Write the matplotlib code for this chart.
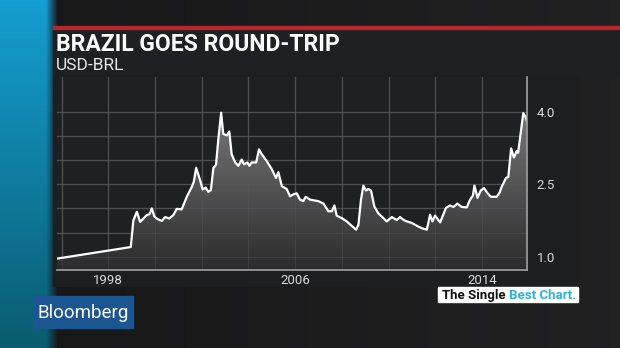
import numpy as np
import matplotlib.pyplot as plt
from matplotlib.patches import Rectangle, Polygon

# USD-BRL (decimal year, rate)
dates = [1995.80, 1998.96, 1999.07, 1999.22, 1999.36, 1999.50, 1999.64, 1999.76, 1999.86, 1999.97,
         2000.10, 2000.29, 2000.43, 2000.61, 2000.78, 2000.93, 2001.14, 2001.36, 2001.57, 2001.66,
         2001.76, 2001.93, 2002.04, 2002.17, 2002.28, 2002.39, 2002.50, 2002.61, 2002.71, 2002.83,
         2002.92, 2003.07, 2003.18, 2003.28, 2003.43, 2003.57, 2003.71, 2003.81, 2003.95, 2004.04,
         2004.14, 2004.33, 2004.45, 2004.57, 2004.78, 2005.00, 2005.18, 2005.28, 2005.43, 2005.64,
         2005.78, 2005.92, 2006.07, 2006.21, 2006.35, 2006.45, 2006.64, 2006.99, 2007.21, 2007.42,
         2007.57, 2007.68, 2007.78, 2007.99, 2008.21, 2008.42, 2008.61, 2008.71, 2008.82, 2008.92,
         2009.04, 2009.13, 2009.25, 2009.39, 2009.56, 2009.78, 2009.92, 2010.14, 2010.35, 2010.49,
         2010.68, 2010.78, 2010.99, 2011.21, 2011.42, 2011.64, 2011.78, 2011.88, 2011.99, 2012.21,
         2012.46, 2012.63, 2012.78, 2012.95, 2013.13, 2013.35, 2013.49, 2013.61, 2013.68, 2013.81,
         2013.95, 2014.09, 2014.23, 2014.38, 2014.63, 2014.75, 2014.85, 2015.03, 2015.13, 2015.25,
         2015.37, 2015.49, 2015.55, 2015.70, 2015.77, 2015.88, 2015.93]
usd_brl = [0.96, 1.20, 1.75, 1.93, 1.72, 1.79, 1.86, 1.88, 2.00, 1.83,
           1.78, 1.74, 1.82, 1.79, 1.86, 1.99, 1.98, 2.24, 2.44, 2.55,
           2.84, 2.58, 2.39, 2.43, 2.34, 2.38, 2.84, 2.90, 3.43, 3.98,
           3.54, 3.51, 3.59, 3.12, 2.95, 2.88, 3.01, 2.91, 2.95, 2.88,
           2.95, 2.95, 3.22, 3.12, 2.98, 2.81, 2.63, 2.75, 2.46, 2.40,
           2.25, 2.29, 2.31, 2.18, 2.15, 2.24, 2.18, 2.15, 2.10, 1.94,
           1.94, 2.06, 1.85, 1.80, 1.73, 1.64, 1.56, 1.66, 2.18, 2.47,
           2.37, 2.40, 2.37, 2.04, 1.90, 1.80, 1.73, 1.82, 1.76, 1.82,
           1.75, 1.73, 1.70, 1.64, 1.59, 1.56, 1.87, 1.73, 1.85, 1.71,
           2.01, 2.06, 2.03, 2.10, 2.03, 2.02, 2.18, 2.26, 2.47, 2.22,
           2.37, 2.42, 2.32, 2.24, 2.24, 2.32, 2.45, 2.63, 2.65, 3.24,
           3.05, 3.19, 3.15, 3.71, 3.97, 3.88, 3.80]

x_ticks = [1998, 2006, 2014]
x_labels = ["1998", "2006", "2014"]
y_ticks = [1.0, 2.5, 4.0]
y_labels = ["1.0", "2.5", "4.0"]

title = "BRAZIL GOES ROUND-TRIP"
subtitle = "USD-BRL"

W, H = 620, 348
fig = plt.figure(figsize=(W / 100, H / 100), dpi=100)
fig.patch.set_facecolor("#1c1c1d")

# background layer in pixel coordinates
bg = fig.add_axes([0, 0, 1, 1])
bg.set_xlim(0, W)
bg.set_ylim(H, 0)
bg.axis("off")

# subtle dark gradient for the backdrop
grad = np.linspace(0, 1, 256).reshape(1, -1)
bg.imshow(np.dstack([0.09 + 0.04 * grad, 0.09 + 0.04 * grad, 0.095 + 0.04 * grad]),
          extent=[0, W, H, 0], aspect="auto", zorder=0)

# blue strip on the left
vert = np.linspace(0, 1, 200).reshape(-1, 1)
horiz = np.linspace(0, 1, 60).reshape(1, -1)
shade = np.clip((horiz - 0.8) / 0.2, 0, 1)
r = (0.08 * (1 - vert) + 0.04 * vert) * (1 - shade) + 0.10 * shade
g = (0.62 * (1 - vert) + 0.36 * vert) * (1 - shade) + 0.10 * shade
b = (0.82 * (1 - vert) + 0.44 * vert) * (1 - shade) + 0.11 * shade
bg.imshow(np.dstack([r, g, b]), extent=[0, 58, H, 0], aspect="auto", zorder=1)

# header and chart panel
bg.add_patch(Rectangle((53, 28), W - 53, 48, color="#1f2023", zorder=2))
bg.add_patch(Rectangle((53, 26), W - 53, 3, color="#b8262a", zorder=3))
bg.add_patch(Rectangle((53, 76), 525, 210, color="#1d1e20", zorder=2))

bg.text(56, 51, title, color="white", fontsize=16.5, fontweight="bold",
        family="Roboto", ha="left", va="baseline", zorder=5)
bg.text(56, 70, subtitle, color="#e8e8e8", fontsize=12.5,
        family="Roboto", ha="left", va="baseline", zorder=5)

# Bloomberg logo
bg.add_patch(Rectangle((33, 296), 100, 32, color="#1b5592", zorder=4))
bg.text(83, 313, "Bloomberg", color="white", fontsize=13.5, family="Roboto",
        ha="center", va="center", zorder=5)

# "The Single Best Chart." tag
bg.add_patch(Rectangle((438, 287), 140, 15, color="white", zorder=4))
t1 = bg.text(442, 299, "The Single ", color="#111111", fontsize=9.5, fontweight="bold",
             family="Roboto", ha="left", va="baseline", zorder=5)
bg.annotate("Best Chart.", xy=(1, 0), xycoords=t1, color="#2bb3d9", fontsize=9.5,
            fontweight="bold", family="Roboto", ha="left", va="bottom", zorder=5)

# main chart
ax = fig.add_axes([57 / W, 1 - 270 / H, (527 - 57) / W, (270 - 77) / H])
ax.set_facecolor("#1f2022")
ax.set_xlim(1995.80, 2015.93)
ax.set_ylim(0.725, 4.718)

for yr in range(1996, 2016, 2):
    ax.axvline(yr, color="#48494c", lw=1, zorder=1)
for v in np.arange(1.0, 4.01, 0.5):
    ax.axhline(v, color="#48494c", lw=1, zorder=1)

# gradient fill under the line
verts = [(dates[0], 0.725)] + list(zip(dates, usd_brl)) + [(dates[-1], 0.725)]
poly = Polygon(verts, closed=True, facecolor="none", edgecolor="none")
ax.add_patch(poly)
gy = np.linspace(0, 1, 256).reshape(-1, 1)
fill = np.dstack([0.17 + 0.30 * gy, 0.17 + 0.30 * gy, 0.175 + 0.30 * gy])
im = ax.imshow(fill, extent=[1995.80, 2015.93, 0.725, 4.0], origin="lower",
               aspect="auto", zorder=2)
im.set_clip_path(poly)

# faint grid over the fill, as in the original
for yr in range(1996, 2016, 2):
    ax.axvline(yr, color="#5a5a5c", lw=0.8, alpha=0.35, zorder=3)
for v in np.arange(1.0, 4.01, 0.5):
    ax.axhline(v, color="#5a5a5c", lw=0.8, alpha=0.35, zorder=3)

ax.plot(dates, usd_brl, color="white", lw=1.6, zorder=4)

ax.set_xticks(x_ticks)
ax.set_xticklabels(x_labels)
ax.set_yticks(y_ticks)
ax.set_yticklabels(y_labels)
ax.yaxis.tick_right()
ax.tick_params(axis="both", length=0, colors="#d8d8d8", labelsize=9.5)
ax.tick_params(axis="x", pad=3)
ax.tick_params(axis="y", pad=7)
for lab in ax.get_xticklabels() + ax.get_yticklabels():
    lab.set_family("Roboto")

for side in ["left", "top"]:
    ax.spines[side].set_visible(False)
for side in ["bottom", "right"]:
    ax.spines[side].set_color("#a0a0a0")
    ax.spines[side].set_linewidth(1.2)
    ax.spines[side].set_zorder(5)

fig.savefig("out.png", dpi=100, facecolor=fig.get_facecolor())
